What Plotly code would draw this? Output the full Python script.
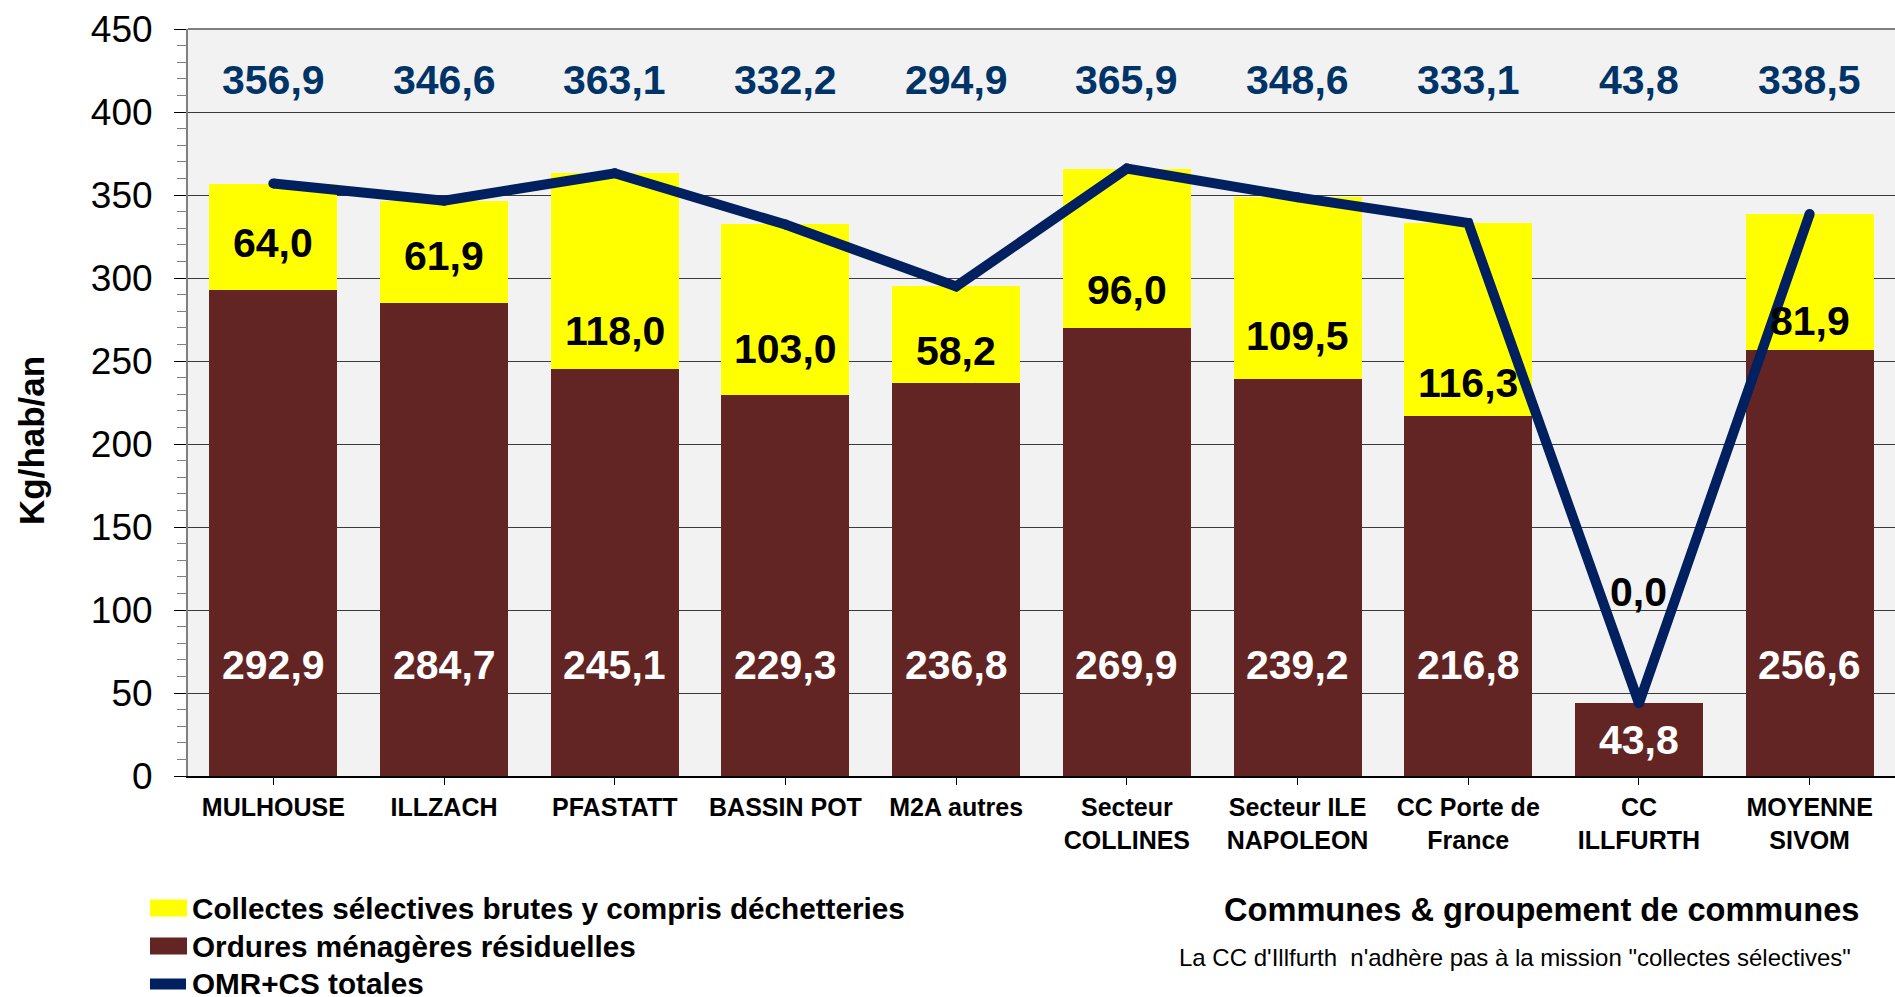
import plotly.graph_objects as go

# --- data -----------------------------------------------------------------
categories = [
    "MULHOUSE", "ILLZACH", "PFASTATT", "BASSIN POT", "M2A autres",
    "Secteur<br>COLLINES", "Secteur ILE<br>NAPOLEON", "CC Porte de<br>France",
    "CC<br>ILLFURTH", "MOYENNE<br>SIVOM",
]
omr = [292.9, 284.7, 245.1, 229.3, 236.8, 269.9, 239.2, 216.8, 43.8, 256.6]
collectes = [64.0, 61.9, 118.0, 103.0, 58.2, 96.0, 109.5, 116.3, 0.0, 81.9]
totals = [356.9, 346.6, 363.1, 332.2, 294.9, 365.9, 348.6, 333.1, 43.8, 338.5]
y_ticks = [0, 50, 100, 150, 200, 250, 300, 350, 400, 450]

# label heights (axis units) used to place the value labels
cs_label_y = [321, 313, 268, 257, 256, 293, 265, 237, 111, 274]
omr_label_y = [67, 67, 67, 67, 67, 67, 67, 67, 21.9, 67]
total_label_y = 419.5

YELLOW = "#FFFF00"
MAROON = "#632523"
NAVY = "#002060"
LABEL_BLUE = "#003366"
FONT = "Liberation Sans, Arial, sans-serif"

W, H = 1895, 997
ML, MR, MT, MB = 188, 0, 29, 221
PW, PH = W - ML - MR, H - MT - MB


def fr(v):
    return f"{v:.1f}".replace(".", ",")


def px_x(x):
    return (x - ML) / PW


def px_y(y):
    return (H - MB - y) / PH


xs = list(range(len(categories)))

fig = go.Figure()
fig.add_trace(go.Bar(x=xs, y=omr, name="Ordures ménagères résiduelles",
                     marker=dict(color=MAROON, line=dict(width=0))))
fig.add_trace(go.Bar(x=xs, y=collectes,
                     name="Collectes sélectives brutes y compris déchetteries",
                     marker=dict(color=YELLOW, line=dict(width=0))))
fig.add_trace(go.Scatter(x=xs, y=totals, mode="lines+markers", name="OMR+CS totales",
                         line=dict(color=NAVY, width=10),
                         marker=dict(color=NAVY, size=10)))

LABEL_SIZE = 41
ann = []
for i in xs:
    ann.append(dict(x=i, y=total_label_y, text=fr(totals[i]), showarrow=False,
                    font=dict(family=FONT, size=LABEL_SIZE, color=LABEL_BLUE, weight="bold")))
    ann.append(dict(x=i, y=cs_label_y[i], text=fr(collectes[i]), showarrow=False,
                    font=dict(family=FONT, size=LABEL_SIZE, color="black", weight="bold")))
    ann.append(dict(x=i, y=omr_label_y[i], text=fr(omr[i]), showarrow=False,
                    font=dict(family=FONT, size=LABEL_SIZE, color="white", weight="bold")))

# y axis title
ann.append(dict(xref="paper", yref="paper", x=px_x(31), y=px_y(441),
                xanchor="center", yanchor="middle", textangle=-90, showarrow=False,
                text="Kg/hab/an",
                font=dict(family=FONT, size=35, color="black", weight="bold")))

# legend drawn below the plot
legend_items = [
    ("Collectes sélectives brutes y compris déchetteries", "bar", YELLOW, 908),
    ("Ordures ménagères résiduelles", "bar", MAROON, 946),
    ("OMR+CS totales", "line", NAVY, 984),
]
shapes = []
for text, kind, color, yc in legend_items:
    if kind == "bar":
        shapes.append(dict(type="rect", xref="paper", yref="paper",
                           x0=px_x(150), x1=px_x(187), y0=px_y(yc - 8.5), y1=px_y(yc + 8.5),
                           fillcolor=color, line=dict(width=0)))
    else:
        shapes.append(dict(type="line", xref="paper", yref="paper",
                           x0=px_x(150), x1=px_x(186), y0=px_y(yc), y1=px_y(yc),
                           line=dict(color=color, width=11)))
    ann.append(dict(xref="paper", yref="paper", x=px_x(190), y=px_y(yc),
                    xanchor="left", yanchor="middle", text=text, showarrow=False,
                    font=dict(family=FONT, size=29.7, color="black", weight="bold")))

# top border of the plot area
shapes.append(dict(type="line", xref="paper", yref="paper", x0=0, x1=1, y0=1, y1=1,
                   line=dict(color="#808080", width=2)))

ann.append(dict(xref="paper", yref="paper", x=px_x(1861), y=px_y(909),
                xanchor="right", yanchor="middle", showarrow=False,
                text="Communes & groupement de communes",
                font=dict(family=FONT, size=32.6, color="black", weight="bold")))
ann.append(dict(xref="paper", yref="paper", x=px_x(1853), y=px_y(958),
                xanchor="right", yanchor="middle", showarrow=False,
                text="La CC d'Illfurth \u00a0n'adhère pas à la mission \"collectes sélectives\"",
                font=dict(family=FONT, size=24, color="black")))

fig.update_layout(
    width=W, height=H,
    margin=dict(l=ML, r=MR, t=MT, b=MB, autoexpand=False),
    paper_bgcolor="white", plot_bgcolor="#F2F2F2",
    barmode="stack", bargap=0.25, showlegend=False,
    annotations=ann, shapes=shapes,
    font=dict(family=FONT, color="black"),
)
fig.update_xaxes(
    range=[-0.5, 9.5], tickvals=xs, ticktext=categories,
    tickson="boundaries", ticks="outside", ticklen=7, tickcolor="black", tickwidth=1,
    showline=True, linecolor="black", linewidth=2, showgrid=False,
    tickfont=dict(family=FONT, size=25, color="black", weight="bold"),
    ticklabelstandoff=1,
)
fig.update_yaxes(
    range=[0, 450], tickvals=y_ticks, ticks="outside", ticklen=12, tickcolor="black",
    tickwidth=1, showline=True, linecolor="#808080", linewidth=2,
    showgrid=True, gridcolor="#3a3a3a", gridwidth=1, zeroline=False,
    minor=dict(dtick=10, ticks="outside", ticklen=9, tickcolor="#808080", showgrid=False),
    tickfont=dict(family=FONT, size=37, color="black"),
    ticklabelstandoff=14,
)

fig.write_html("out.html")
